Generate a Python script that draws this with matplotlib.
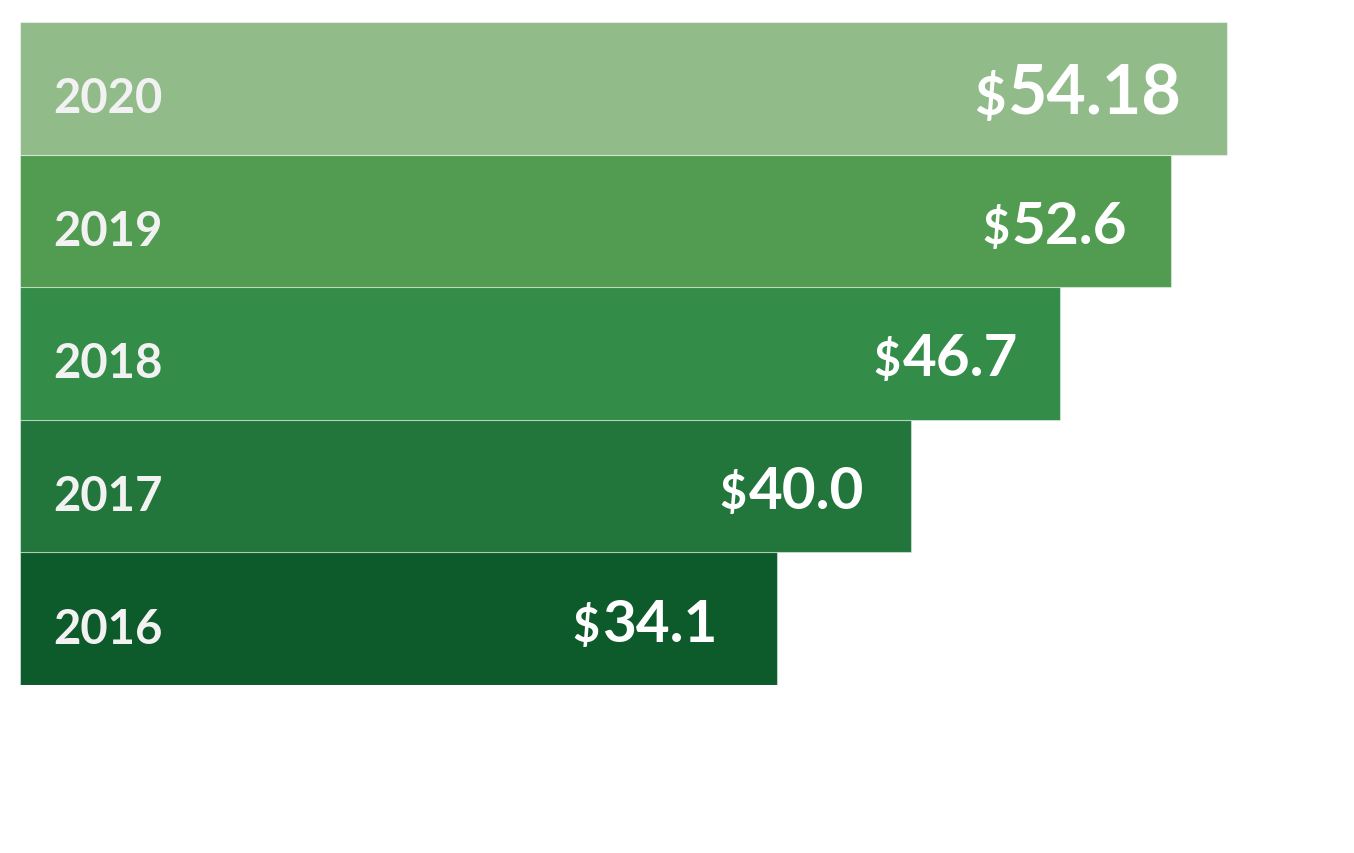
import matplotlib
matplotlib.use("Agg")
import matplotlib.pyplot as plt

years = ["2016", "2017", "2018", "2019", "2020"]
values = [34.0, 40.0, 46.7, 51.7, 54.2]          # bar lengths as drawn
value_labels = ["34.1", "40.0", "46.7", "52.6", "54.18"]
colors = ["#0d5a2b", "#22753b", "#338c48", "#519c50", "#92bb8a"]
label_pad_px = [60, 47, 42, 44, 46]

W, H, DPI = 1354, 854, 100
fig = plt.figure(figsize=(W / DPI, H / DPI), dpi=DPI)
fig.patch.set_facecolor("white")
px_per_unit = 22.27
xmax = 60
ax = fig.add_axes([20 / W, 168 / H, xmax * px_per_unit / W, 663 / H])
ax.set_xlim(0, xmax)
ax.set_ylim(-0.5, len(years) - 0.5)
ax.axis("off")

ypos = list(range(len(years)))
ax.barh(ypos, values, height=1.0, color=colors,
        edgecolor=(1, 1, 1, 0.45), linewidth=0.8)

FONT = "Lato"
pt = 72 / DPI  # points per pixel

num_texts = []
for i, (y, v, lab, yr, pad) in enumerate(zip(ypos, values, value_labels, years, label_pad_px)):
    big = (i == len(years) - 1)
    digit_px = 49 if big else 42
    fs = digit_px / 0.72 * pt
    ax.annotate(yr, xy=(0, y), xytext=(33 * pt, -24 * pt), textcoords="offset points",
                ha="left", va="baseline", color="#f2f2f2", fontsize=34 / 0.72 * pt,
                fontfamily=FONT, fontweight="bold")
    t = ax.annotate(lab, xy=(v, y), xytext=(-pad * pt, -(digit_px / 2 + 1) * pt),
                    textcoords="offset points", ha="right", va="baseline",
                    color="white", fontsize=fs, fontfamily=FONT, fontweight="bold")
    num_texts.append((t, fs, y, digit_px))

fig.canvas.draw()
r = fig.canvas.get_renderer()
inv = ax.transData.inverted()
for t, fs, y, digit_px in num_texts:
    bb = t.get_window_extent(r)
    xd, _ = inv.transform((bb.x0, 0))
    ax.annotate("$", xy=(xd, y), xytext=(-2 * pt, -(digit_px / 2 + 1) * pt),
                textcoords="offset points", ha="right", va="baseline",
                color="white", fontsize=fs * 0.8, fontfamily=FONT, fontweight="bold")

fig.savefig("out.png", dpi=DPI, facecolor="white")
